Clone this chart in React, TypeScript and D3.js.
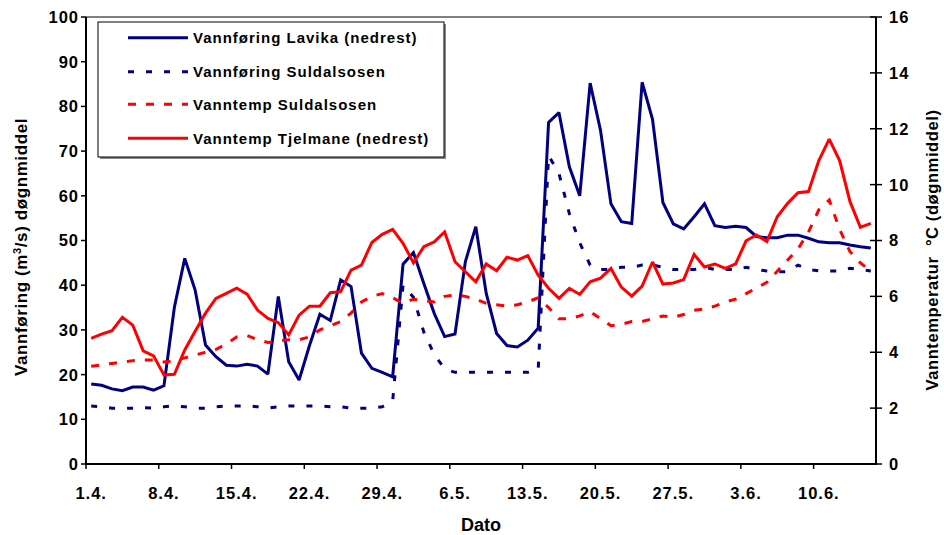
import React from "react";
import * as d3 from "d3";

const days: Date[] = d3.timeDay.range(new Date(2007, 3, 1), new Date(2007, 5, 16));
const tickLabels = ["1.4.", "8.4.", "15.4.", "22.4.", "29.4.", "6.5.", "13.5.", "20.5.", "27.5.", "3.6.", "10.6."];
const leftTicks = [0, 10, 20, 30, 40, 50, 60, 70, 80, 90, 100];
const rightTicks = [0, 2, 4, 6, 8, 10, 12, 14, 16];

const lavika = [17.9, 17.6, 16.8, 16.4, 17.2, 17.2, 16.5, 17.5, 35, 46, 38.9, 26.6, 24.0, 22.1, 21.9, 22.3, 21.9, 20.1, 37.5, 22.9,
  18.8, 26.5, 33.5, 32.1, 41.2, 39.7, 24.8, 21.4, 20.5, 19.5, 44.7, 47.3, 40.4, 33.7, 28.5, 29.1, 45.3, 53.1, 38.2, 29.2,
  26.5, 26.2, 27.7, 30.4, 76.4, 78.6, 66.5, 60.0, 85.2, 74.6, 58.2, 54.2, 53.8, 85.4, 77.1, 58.5, 53.7, 52.6, 55.3, 58.2,
  53.3, 52.9, 53.2, 52.9, 50.9, 50.6, 50.6, 51.2, 51.2, 50.5, 49.7, 49.5, 49.5, 49.0, 48.6, 48.3];

const suldalFlow = [13, 12.8, 12.5, 12.5, 12.5, 12.6, 12.5, 12.8, 13, 12.8, 12.5, 12.5, 12.8, 13, 13, 13, 12.8, 12.5, 12.8, 13,
  13, 13, 13, 12.8, 12.8, 12.5, 12.5, 12.5, 12.8, 14, 40, 37.3, 29.5, 24.5, 21.3, 20.5, 20.5, 20.5, 20.5, 20.5,
  20.5, 20.5, 20.5, 21, 69, 65, 56, 49.5, 44.5, 43.5, 43.5, 44, 44, 44.5, 44.5, 44, 43.5, 43.5, 43.5, 44,
  43.5, 43.5, 43.5, 44, 43.5, 43.2, 43, 43, 44.5, 43.5, 43.2, 43.2, 43.2, 43.8, 43.5, 43.2];

const suldalTemp = [3.5, 3.55, 3.6, 3.65, 3.7, 3.72, 3.72, 3.65, 3.7, 3.8, 3.9, 4.0, 4.1, 4.3, 4.55, 4.6, 4.45, 4.35, 4.4, 4.45,
  4.45, 4.55, 4.8, 4.95, 5.1, 5.4, 5.8, 6.0, 6.1, 5.95, 5.75, 5.9, 5.85, 5.8, 6.0, 6.05, 6.0, 5.9, 5.75, 5.7,
  5.65, 5.7, 5.8, 5.95, 5.6, 5.2, 5.2, 5.3, 5.45, 5.2, 4.95, 5.0, 5.1, 5.1, 5.2, 5.3, 5.25, 5.35, 5.5, 5.55,
  5.65, 5.8, 5.9, 6.1, 6.3, 6.5, 6.9, 7.3, 7.7, 8.3, 9.1, 9.45, 8.4, 7.6, 7.2, 6.9];

const tjelmaneTemp = [4.5, 4.65, 4.77, 5.25, 4.97, 4.05, 3.87, 3.19, 3.21, 4.08, 4.75, 5.4, 5.93, 6.11, 6.29, 6.08, 5.51, 5.21, 5.06, 4.62,
  5.33, 5.65, 5.65, 6.13, 6.17, 6.94, 7.12, 7.93, 8.22, 8.4, 7.9, 7.2, 7.78, 7.95, 8.31, 7.24, 6.88, 6.52, 7.16, 6.92,
  7.4, 7.3, 7.46, 6.76, 6.29, 5.93, 6.29, 6.07, 6.52, 6.65, 7.0, 6.33, 6.01, 6.37, 7.23, 6.44, 6.48, 6.6, 7.5, 7.05,
  7.16, 7.0, 7.16, 7.99, 8.2, 7.96, 8.85, 9.33, 9.71, 9.75, 10.86, 11.63, 10.86, 9.39, 8.47, 8.61];

const seriesNames = ["Vannføring Lavika (nedrest)", "Vannføring Suldalsosen", "Vanntemp Suldalsosen", "Vanntemp Tjelmane (nedrest)"];

const BLUE = "#000080";
const RED = "#FF0000";
const FONT = "'Liberation Sans', Arial, sans-serif";

export default function App() {
  const W = 944, H = 535;
  const L = 86, R = 876, T = 17, B = 464;

  const x = d3.scaleBand<number>().domain(d3.range(days.length)).range([L, R]).padding(0);
  const xc = (i: number) => (x(i) as number) + x.bandwidth() / 2;
  const yL = d3.scaleLinear().domain([0, 100]).range([B, T]);
  const yR = d3.scaleLinear().domain([0, 16]).range([B, T]);

  const lineL = d3.line<number>().x((_, i) => xc(i)).y((d) => yL(d));
  const lineR = d3.line<number>().x((_, i) => xc(i)).y((d) => yR(d));

  const series = [
    { name: seriesNames[0], path: lineL(lavika), color: BLUE, dash: undefined as string | undefined },
    { name: seriesNames[1], path: lineL(suldalFlow), color: BLUE, dash: "6 12" },
    { name: seriesNames[2], path: lineR(suldalTemp), color: RED, dash: "8 10" },
    { name: seriesNames[3], path: lineR(tjelmaneTemp), color: RED, dash: undefined },
  ];

  const tickIdx = d3.range(0, days.length, 7);
  const legendRows = [37.7, 71.7, 104.3, 138.3];

  return (
    <svg width={W} height={H} style={{ position: "absolute", left: 0, top: 0, background: "#fff" }}
      fontFamily={FONT} fontWeight="bold">
      <rect x={0} y={0} width={W} height={H} fill="#fff" />
      <line x1={L} x2={R} y1={T} y2={T} stroke="#000" strokeWidth={1} />
      <defs>
        <clipPath id="clip"><rect x={L} y={T} width={R - L} height={B - T} /></clipPath>
      </defs>
      <g clipPath="url(#clip)">
        {series.map((s) => (
          <path key={s.name} d={s.path || ""} fill="none" stroke={s.color} strokeWidth={3}
            strokeDasharray={s.dash} strokeLinejoin="miter" strokeMiterlimit={2} />
        ))}
      </g>
      <line x1={L} x2={L} y1={T} y2={B + 1} stroke="#000" strokeWidth={2} />
      <line x1={R} x2={R} y1={T} y2={B + 1} stroke="#000" strokeWidth={2} />
      <line x1={L - 1} x2={R + 1} y1={B} y2={B} stroke="#000" strokeWidth={2} />
      {leftTicks.map((t) => (
        <g key={"l" + t}>
          <line x1={L - 5} x2={L} y1={yL(t)} y2={yL(t)} stroke="#000" strokeWidth={1.5} />
          <text x={L - 7} y={yL(t)} dy="0.36em" textAnchor="end" fontSize={16.5} letterSpacing={1}>{t}</text>
        </g>
      ))}
      {rightTicks.map((t) => (
        <g key={"r" + t}>
          <line x1={R - 6} x2={R + 6} y1={yR(t)} y2={yR(t)} stroke="#000" strokeWidth={1.5} />
          <text x={R + 13} y={yR(t)} dy="0.36em" textAnchor="start" fontSize={16.5} letterSpacing={1}>{t}</text>
        </g>
      ))}
      {tickIdx.map((i, k) => (
        <g key={"x" + i}>
          <line x1={x(i) as number} x2={x(i) as number} y1={B} y2={B + 5} stroke="#000" strokeWidth={1.5} />
          <text x={xc(i)} y={498.5} textAnchor="middle" fontSize={16.5} letterSpacing={1}>{tickLabels[k]}</text>
        </g>
      ))}
      <text x={(L + R) / 2} y={531} textAnchor="middle" fontSize={18}>Dato</text>
      <text transform={`translate(27,247) rotate(-90)`} textAnchor="middle" fontSize={17} letterSpacing={0.6}>
        Vannføring (m<tspan dy={-6} fontSize={11}>3</tspan><tspan dy={6}>/s) døgnmiddel</tspan>
      </text>
      <text transform={`translate(938,250) rotate(-90)`} textAnchor="middle" fontSize={16.5} letterSpacing={0.6}
        style={{ whiteSpace: "pre" }}>
        {"Vanntemperatur  °C (døgnmiddel)"}
      </text>
      <rect x={100} y={24} width={346} height={135} fill="#888" />
      <rect x={98} y={22} width={346} height={135} fill="#fff" stroke="#000" strokeWidth={1} />
      {series.map((s, k) => (
        <g key={"lg" + k}>
          <line x1={128} x2={188} y1={legendRows[k]} y2={legendRows[k]} stroke={s.color} strokeWidth={3}
            strokeDasharray={s.dash} />
          <text x={193} y={legendRows[k]} dy="0.36em" fontSize={15} letterSpacing={1}>{s.name}</text>
        </g>
      ))}
    </svg>
  );
}
